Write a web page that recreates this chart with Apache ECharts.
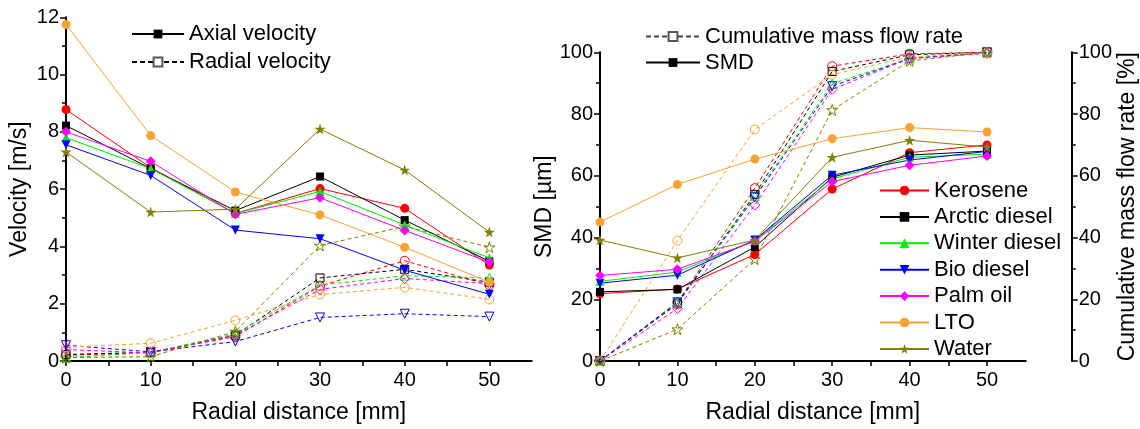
<!DOCTYPE html>
<html><head><meta charset="utf-8">
<script src="https://cdn.jsdelivr.net/npm/echarts@6/dist/echarts.min.js"></script>
<style>html,body{margin:0;padding:0;background:#fff}#c{width:1140px;height:429px}</style>
</head><body><div id="c"></div>
<script>
const radialDistance = [0, 10, 20, 30, 40, 50];
const fuels = ['Kerosene', 'Arctic diesel', 'Winter diesel', 'Bio diesel', 'Palm oil', 'LTO', 'Water'];
const xTickLabels = ['0', '10', '20', '30', '40', '50'];

// Axial velocity [m/s]
const axialKerosene = [8.78, 6.75, 5.15, 6.02, 5.33, 3.35];
const axialArctic   = [8.22, 6.72, 5.25, 6.44, 4.92, 3.48];
const axialWinter   = [7.80, 6.72, 5.15, 5.92, 4.75, 3.60];
const axialBio      = [7.55, 6.48, 4.57, 4.27, 3.17, 2.33];
const axialPalm     = [8.00, 6.97, 5.12, 5.70, 4.56, 3.45];
const axialLTO      = [11.75, 7.87, 5.90, 5.10, 3.97, 2.75];
const axialWater    = [7.30, 5.20, 5.30, 8.10, 6.67, 4.50];

// Radial velocity [m/s]
const radialKerosene = [0.20, 0.30, 0.85, 2.62, 3.50, 2.65];
const radialArctic   = [0.23, 0.30, 0.90, 2.90, 3.20, 2.75];
const radialWinter   = [0.12, 0.30, 0.95, 2.65, 2.98, 2.90];
const radialBio      = [0.55, 0.32, 0.68, 1.52, 1.65, 1.55];
const radialPalm     = [0.40, 0.28, 0.90, 2.50, 2.88, 2.70];
const radialLTO      = [0.48, 0.62, 1.42, 2.32, 2.57, 2.15];
const radialWater    = [0.12, 0.15, 1.03, 4.03, 4.70, 3.97];

// SMD [um]
const smdKerosene = [21.8, 23.3, 34.5, 55.7, 67.5, 70.0];
const smdArctic   = [22.4, 23.2, 36.9, 59.5, 66.7, 68.0];
const smdWinter   = [25.8, 28.8, 39.0, 59.0, 66.0, 67.0];
const smdBio      = [25.2, 27.8, 39.2, 60.2, 65.1, 67.9];
const smdPalm     = [27.7, 29.7, 38.8, 58.1, 63.4, 66.4];
const smdLTO      = [45.0, 57.2, 65.4, 72.0, 75.6, 74.2];
const smdWater    = [39.2, 33.4, 39.2, 66.0, 71.5, 69.3];

// Cumulative mass flow rate [%]
const cumKerosene = [0, 19.0, 56.0, 95.5, 99.5, 100];
const cumArctic   = [0, 18.5, 54.0, 93.8, 99.2, 100];
const cumWinter   = [0, 19.0, 53.5, 89.8, 98.0, 100];
const cumBio      = [0, 19.0, 53.0, 89.0, 98.0, 100];
const cumPalm     = [0, 17.0, 50.5, 88.0, 98.0, 99.6];
const cumLTO      = [0, 39.0, 75.0, 92.8, 98.5, 100];
const cumWater    = [0, 10.3, 33.0, 81.3, 97.2, 100];

const axialSets  = [axialKerosene, axialArctic, axialWinter, axialBio, axialPalm, axialLTO, axialWater];
const radialSets = [radialKerosene, radialArctic, radialWinter, radialBio, radialPalm, radialLTO, radialWater];
const smdSets    = [smdKerosene, smdArctic, smdWinter, smdBio, smdPalm, smdLTO, smdWater];
const cumSets    = [cumKerosene, cumArctic, cumWinter, cumBio, cumPalm, cumLTO, cumWater];

const colors = ['#FF0000', '#000000', '#00EE00', '#0000FF', '#FF00FF', '#F8A232', '#808000'];
const STAR = 'path://M50,0 L61.2,34.5 L97.6,34.5 L68.2,55.9 L79.4,90.5 L50,69.1 L20.6,90.5 L31.8,55.9 L2.4,34.5 L38.8,34.5 Z';
const symbols = ['circle', 'rect', 'triangle', 'triangle', 'diamond', 'circle', STAR];
const rotates = [0, 0, 0, 180, 0, 0, 0];
const sizes   = [9, 8, 9, 9, 10, 9, 11];

const FONT = 'Liberation Sans';
const pair = arr => arr.map((v, i) => [radialDistance[i], v]);

function mkSeries(name, data, i, xi, yi, dashed) {
  const c = colors[i];
  return {
    name, type: 'line', xAxisIndex: xi, yAxisIndex: yi, data: pair(data),
    symbol: symbols[i], symbolRotate: rotates[i], symbolSize: sizes[i],
    lineStyle: { color: c, width: 1, type: dashed ? [4, 3] : 'solid' },
    itemStyle: dashed ? { color: 'rgba(255,255,255,0)', borderColor: c, borderWidth: 1 } : { color: c, borderColor: c, borderWidth: 0 },
    emphasis: { disabled: true }, animation: false, z: dashed ? 2 : 3
  };
}

const series = [];
fuels.forEach((f, i) => {
  series.push(mkSeries(f + ' radial', radialSets[i], i, 0, 0, true));
  series.push(mkSeries(f + ' axial', axialSets[i], i, 0, 0, false));
  series.push(mkSeries(f + ' cum', cumSets[i], i, 1, 2, true));
  series.push(mkSeries(f, smdSets[i], i, 1, 1, false));
});
// legend proxies
series.push({ name: 'Axial velocity', type: 'line', xAxisIndex: 0, yAxisIndex: 0, data: [], symbol: 'rect', symbolSize: 8,
  lineStyle: { color: '#000', width: 1 }, itemStyle: { color: '#000' } });
series.push({ name: 'Radial velocity', type: 'line', xAxisIndex: 0, yAxisIndex: 0, data: [], symbol: 'rect', symbolSize: 7,
  lineStyle: { color: '#000', width: 1, type: [5, 3] }, itemStyle: { color: '#fff', borderColor: '#555', borderWidth: 1 } });
series.push({ name: 'Cumulative mass flow rate', type: 'line', xAxisIndex: 1, yAxisIndex: 2, data: [], symbol: 'rect', symbolSize: 7,
  lineStyle: { color: '#444', width: 1, type: [5, 3] }, itemStyle: { color: '#fff', borderColor: '#555', borderWidth: 1 } });
series.push({ name: 'SMD', type: 'line', xAxisIndex: 1, yAxisIndex: 1, data: [], symbol: 'rect', symbolSize: 8,
  lineStyle: { color: '#000', width: 1 }, itemStyle: { color: '#000' } });

const axisLine = { show: true, onZero: false, lineStyle: { color: '#000', width: 2 } };
const labelStyle = { fontFamily: FONT, fontSize: 20, color: '#000' };
const nameStyle = { fontFamily: FONT, fontSize: 23, color: '#000' };

function xAxis(gi) {
  return {
    type: 'value', gridIndex: gi, min: 0, max: 55, interval: 5,
    axisLine, splitLine: { show: false },
    axisTick: { show: true, length: 5, lineStyle: { color: '#000', width: 1.5 } },
    axisLabel: { ...labelStyle, margin: 9, showMaxLabel: false,
      formatter: v => (v % 10 === 0 && v <= 50) ? xTickLabels[v / 10] : '' },
    name: 'Radial distance [mm]', nameLocation: 'middle', nameGap: 40, nameTextStyle: nameStyle
  };
}
function yAxis(gi, max, interval, name, pos, offset, gap) {
  return {
    type: 'value', gridIndex: gi, min: 0, max, interval, position: pos, offset: offset || 0,
    axisLine, splitLine: { show: false },
    axisTick: { show: true, length: 6, lineStyle: { color: '#000', width: 1.5 } },
    minorTick: { show: true, splitNumber: 2, length: 4, lineStyle: { color: '#000', width: 1.5 } },
    axisLabel: { ...labelStyle, margin: 7 },
    name, nameLocation: 'middle', nameGap: gap, nameRotate: 90, nameTextStyle: nameStyle
  };
}

const legendText = { fontFamily: FONT, fontSize: 22, color: '#000', lineHeight: 22 };
const option = {
  backgroundColor: '#fff',
  animation: false,
  grid: [
    { left: 66, top: 17.3, width: 465.7, height: 346 },
    { left: 600, top: 52.3, width: 429, height: 315 }
  ],
  xAxis: [xAxis(0), xAxis(1)],
  yAxis: [
    yAxis(0, 12, 2, 'Velocity [m/s]', 'left', 0, 35),
    yAxis(1, 100, 20, 'SMD [µm]', 'left', 0, 42),
    yAxis(1, 100, 20, 'Cumulative mass flow rate [%]', 'right', 46, 40)
  ],
  legend: [
    { data: ['Axial velocity', 'Radial velocity'], orient: 'vertical', left: 131, top: 23, padding: 0,
      itemWidth: 52, itemHeight: 11, itemGap: 6, textStyle: legendText, selectedMode: false },
    { data: ['Cumulative mass flow rate', 'SMD'], orient: 'vertical', left: 645, top: 25.5, padding: 0,
      itemWidth: 54, itemHeight: 11, itemGap: 4, textStyle: legendText, selectedMode: false },
    { data: fuels, orient: 'vertical', left: 879, top: 179.5, padding: 0,
      itemWidth: 49, itemHeight: 12, itemGap: 4.4, textStyle: legendText, selectedMode: false }
  ],
  series
};
const chart = echarts.init(document.getElementById('c'), null, { renderer: 'canvas' });
chart.setOption(option);
</script></body></html>
